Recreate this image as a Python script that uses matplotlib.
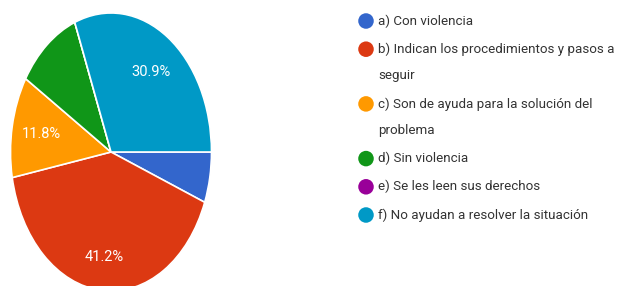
import matplotlib
matplotlib.use('Agg')
from matplotlib import pyplot as plt

# datos de la encuesta (porcentajes)
labels = ['a) Con violencia',
          'b) Indican los procedimientos y pasos a\nseguir',
          'c) Son de ayuda para la solución del\nproblema',
          'd) Sin violencia',
          'e) Se les leen sus derechos',
          'f) No ayudan a resolver la situación']
values = [5.9, 41.2, 11.8, 10.3, 0.0, 30.9]
colors = ['#3366CC', '#DC3912', '#FF9900', '#109618', '#990099', '#0099C6']

plt.rcParams['font.family'] = ['Roboto', 'DejaVu Sans']

fig = plt.figure(figsize=(6.19, 2.86), dpi=100)

# pie, stretched vertically like the screenshot
ax = fig.add_axes([10.5 / 619, -5 / 286, 201 / 619, 278 / 286])
wedges, texts, autotexts = ax.pie(
    values, colors=colors, startangle=0, counterclock=False,
    autopct=lambda p: '%.1f%%' % p if p > 11 else '',
    pctdistance=0.70, wedgeprops=dict(edgecolor='white', linewidth=1.2),
    textprops=dict(color='white', fontsize=10.5))
ax.set_aspect('auto')
ax.set_xlim(-1.0, 1.0)
ax.set_ylim(-1.0, 1.0)
# big slice label sits a bit further out
x0, y0 = autotexts[1].get_position()
autotexts[1].set_position((x0 * 0.76 / 0.70, y0 * 0.76 / 0.70))

# legend drawn by hand (pixel coords)
lax = fig.add_axes([0, 0, 1, 1])
lax.set_xlim(0, 619)
lax.set_ylim(286, 0)
lax.axis('off')
y = 21
for lab, col in zip(labels, colors):
    lax.scatter([366], [y], s=125, color=col, edgecolors='none')
    lines = lab.split('\n')
    lax.text(378, y, lines[0], fontsize=9.6, color='#333333',
             va='center', ha='left')
    for extra in lines[1:]:
        y += 26.5
        lax.text(378, y, extra, fontsize=9.6, color='#333333',
                 va='center', ha='left')
    y += 28.2

fig.savefig('out.png', dpi=100)
